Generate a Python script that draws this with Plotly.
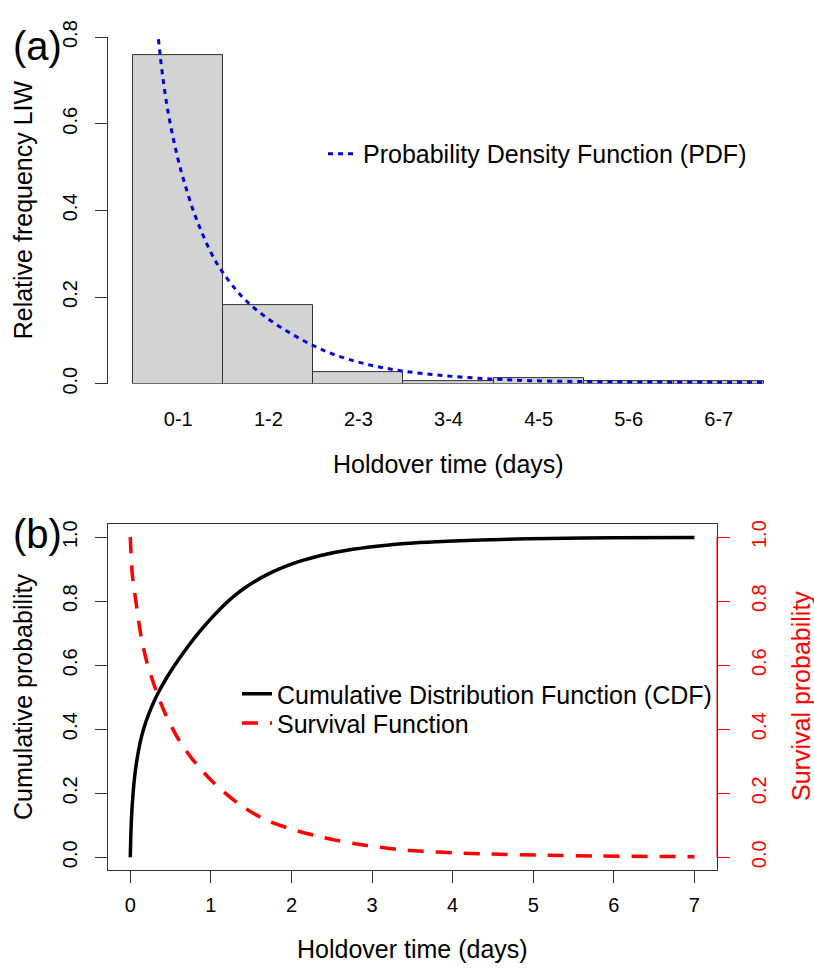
import plotly.graph_objects as go

W, H = 814, 977

# ---------------- data ----------------
categories = ["0-1", "1-2", "2-3", "3-4", "4-5", "5-6", "6-7"]
rel_freq = [0.758, 0.182, 0.026, 0.007, 0.012, 0.006, 0.006]

pdf_x = [0.28, 0.31, 0.34, 0.37, 0.40, 0.44, 0.48, 0.53, 0.58, 0.64, 0.70, 0.77,
         0.85, 0.93, 1.00, 1.10, 1.25, 1.45, 1.70, 1.96, 2.22, 2.59, 3.00, 3.48,
         3.96, 4.40, 4.96, 5.50, 6.00, 6.50, 7.00]
pdf_y = [0.795, 0.738, 0.690, 0.648, 0.612, 0.570, 0.533, 0.492, 0.456, 0.416, 0.381, 0.345,
         0.308, 0.277, 0.255, 0.227, 0.192, 0.157, 0.122, 0.092, 0.068, 0.045, 0.029, 0.018,
         0.011, 0.007, 0.005, 0.004, 0.0035, 0.003, 0.003]

cdf_x = [0, 0.01, 0.025, 0.05, 0.08, 0.12, 0.17, 0.23, 0.30, 0.37, 0.45, 0.52, 0.60,
         0.70, 0.80, 0.905, 1.01, 1.112, 1.215, 1.318, 1.42, 1.524, 1.69, 1.94, 2.15,
         2.35, 2.76, 3.18, 3.59, 4.09, 4.6, 5.2, 6.0, 7.0]
cdf_y = [0, 0.090, 0.165, 0.242, 0.300, 0.356, 0.405, 0.448, 0.490, 0.525, 0.560, 0.588,
         0.618, 0.653, 0.686, 0.718, 0.748, 0.775, 0.800, 0.822, 0.841, 0.858, 0.882,
         0.910, 0.928, 0.942, 0.962, 0.975, 0.983, 0.989, 0.993, 0.996, 0.998, 0.999]

surv_x = [0, 0.025, 0.079, 0.133, 0.203, 0.306, 0.43, 0.595, 0.76, 1.01, 1.34, 1.67,
          2.0, 2.33, 2.56, 2.93, 3.30, 3.63, 4.0, 4.37, 5.08, 5.82, 7.0]
surv_y = [1.0, 0.884, 0.783, 0.692, 0.612, 0.531, 0.451, 0.370, 0.310, 0.239, 0.168, 0.118,
          0.088, 0.066, 0.053, 0.037, 0.025, 0.019, 0.014, 0.011, 0.007, 0.004, 0.002]

days_ticks = [0, 1, 2, 3, 4, 5, 6, 7]
freq_ticks = [0.0, 0.2, 0.4, 0.6, 0.8]
prob_ticks = [0.0, 0.2, 0.4, 0.6, 0.8, 1.0]

bar_centers = [i + 0.5 for i in range(len(categories))]

FONT = "Liberation Sans, Arial, sans-serif"
AX = "#333333"
BLUE = "#0000DD"
RED = "#FF0000"

fig = go.Figure()

fig.add_trace(go.Bar(
    x=bar_centers, y=rel_freq, width=1,
    marker=dict(color="#D3D3D3", line=dict(color=AX, width=1)),
    showlegend=False, xaxis="x", yaxis="y", hoverinfo="skip"))

fig.add_trace(go.Scatter(
    x=pdf_x, y=pdf_y, mode="lines", line_shape="spline",
    line=dict(color=BLUE, width=3, dash="5px,5px"),
    name="Probability Density Function (PDF)", legend="legend",
    xaxis="x", yaxis="y"))

fig.add_trace(go.Scatter(
    x=cdf_x, y=cdf_y, mode="lines", line_shape="spline",
    line=dict(color="black", width=3.5, smoothing=0.8),
    name="Cumulative Distribution Function (CDF)", legend="legend2",
    xaxis="x2", yaxis="y2"))

fig.add_trace(go.Scatter(
    x=surv_x, y=surv_y, mode="lines", line_shape="spline",
    line=dict(color=RED, width=3.5, dash="16px,12px", smoothing=0.8),
    name="Survival Function", legend="legend3",
    xaxis="x2", yaxis="y3"))

def px(v):
    return v / W

def py(v):
    return 1 - v / H

tick_font = dict(size=20, color="black", family=FONT)
leg_font = dict(size=25, family=FONT, color="black")

fig.update_layout(
    width=W, height=H,
    margin=dict(l=0, r=0, t=0, b=0),
    paper_bgcolor="white", plot_bgcolor="white",
    font=dict(family=FONT, color="black"),
    bargap=0,
    xaxis=dict(domain=[px(108), px(789)], range=[-0.28, 7.28],
               tickvals=bar_centers, ticktext=categories,
               ticks="outside", ticklen=12, tickcolor="rgba(0,0,0,0)",
               ticklabelstandoff=5,
               showline=False, showgrid=False, zeroline=False,
               tickfont=tick_font, anchor="y"),
    yaxis=dict(domain=[py(377.5), py(20.7)], range=[0, 0.8],
               tickvals=freq_ticks, tickformat=".1f", tickangle=-90,
               ticks="outside", ticklen=12, tickcolor=AX, ticklabelstandoff=10,
               showline=True, linecolor=AX, linewidth=1,
               showgrid=False, zeroline=False, tickfont=tick_font, anchor="x"),
    xaxis2=dict(domain=[px(107.7), px(717)], range=[-0.28, 7.28],
                tickvals=days_ticks, ticks="outside", ticklen=12, tickcolor=AX,
                ticklabelstandoff=5,
                showline=True, mirror=True, linecolor=AX, linewidth=1,
                showgrid=False, zeroline=False, tickfont=tick_font, anchor="y2"),
    yaxis2=dict(domain=[py(878.3), py(522.3)], range=[-0.04, 1.04],
                tickvals=prob_ticks, tickformat=".1f", tickangle=-90,
                ticks="outside", ticklen=12, tickcolor=AX, ticklabelstandoff=10,
                showline=True, mirror=True, linecolor=AX, linewidth=1,
                showgrid=False, zeroline=False, tickfont=tick_font, anchor="x2"),
    yaxis3=dict(overlaying="y2", side="right", anchor="x2", range=[-0.04, 1.04],
                tickvals=prob_ticks, tickformat=".1f", tickangle=-90,
                ticks="outside", ticklen=12, tickcolor=RED, ticklabelstandoff=12,
                showline=False, showgrid=False, zeroline=False,
                tickfont=dict(size=20, color=RED, family=FONT)),
    legend=dict(x=px(323), y=py(141), xanchor="left", yanchor="middle",
                bgcolor="rgba(0,0,0,0)", borderwidth=0, font=leg_font),
    legend2=dict(x=px(237), y=py(697), xanchor="left", yanchor="middle",
                 bgcolor="rgba(0,0,0,0)", borderwidth=0, font=leg_font),
    legend3=dict(x=px(237), y=py(727), xanchor="left", yanchor="middle",
                 bgcolor="rgba(0,0,0,0)", borderwidth=0, font=leg_font),
    shapes=[dict(type="line", xref="x2 domain", x0=1, x1=1, yref="y3", y0=0, y1=1,
                 line=dict(color=RED, width=1))],
    annotations=[
        dict(text="(a)", x=px(11), y=py(30), xref="paper", yref="paper",
             xanchor="left", yanchor="middle", showarrow=False,
             font=dict(size=40, family=FONT, color="black")),
        dict(text="(b)", x=px(11), y=py(532), xref="paper", yref="paper",
             xanchor="left", yanchor="middle", showarrow=False,
             font=dict(size=40, family=FONT, color="black")),
        dict(text="Relative frequency LIW", x=px(23), y=py(199), xref="paper", yref="paper",
             xanchor="center", yanchor="middle", textangle=-90, showarrow=False,
             font=dict(size=25, family=FONT, color="black")),
        dict(text="Holdover time (days)", x=px(448), y=py(460), xref="paper", yref="paper",
             xanchor="center", yanchor="middle", showarrow=False,
             font=dict(size=25, family=FONT, color="black")),
        dict(text="Cumulative probability", x=px(23), y=py(700), xref="paper", yref="paper",
             xanchor="center", yanchor="middle", textangle=-90, showarrow=False,
             font=dict(size=25, family=FONT, color="black")),
        dict(text="Survival probability", x=px(801), y=py(699), xref="paper", yref="paper",
             xanchor="center", yanchor="middle", textangle=-90, showarrow=False,
             font=dict(size=25, family=FONT, color=RED)),
        dict(text="Holdover time (days)", x=px(412), y=py(960), xref="paper", yref="paper",
             xanchor="center", yanchor="middle", showarrow=False,
             font=dict(size=25, family=FONT, color="black")),
    ],
)

fig.write_html("out.html")
